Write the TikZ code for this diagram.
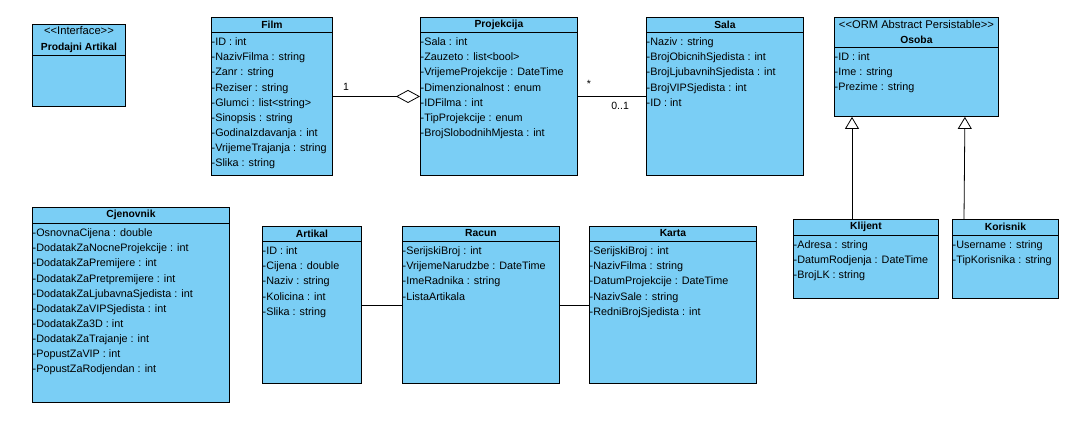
\documentclass[tikz,border=0pt]{standalone}
\usepackage{fontspec}
\setmainfont{Liberation Sans}
\usetikzlibrary{arrows.meta}
\definecolor{classblue}{RGB}{122,206,245}
\newcommand{\classBox}[7]{%
  \node[classbox, minimum width=#3, minimum height=#4] (#1) at #2 {};
  \draw[classline] ([yshift=-#5]#1.north west) -- ([yshift=-#5]#1.north east);
  \node[classtitle] (#1-title) at ([yshift=-#5/2]#1.north) {#6};
  \node[attrs] (#1-attrs) at ([yshift=-#5-3pt]#1.north west) {#7};
}
\newcommand{\stereo}[1]{{\fontsize{11.2}{15.5}\selectfont\mdseries <{}<#1>{}>}}

\begin{document}
\begin{tikzpicture}[x=1pt, y=-1pt]
  \tikzset{classbox/.style={draw, line width=0.9pt, fill=classblue, anchor=north west, inner sep=0pt},
           classline/.style={line width=0.9pt},
           classtitle/.style={font=\fontsize{10.3}{15.5}\selectfont\bfseries, align=center, inner sep=0pt},
           attrs/.style={font=\fontsize{10.8}{15.1}\selectfont, align=left, anchor=north west, inner sep=0pt, xshift=0.5pt},
           assoc/.style={line width=0.8pt},
           aggr/.style={line width=0.8pt, -{Diamond[open, length=24pt, width=13pt, line width=0.8pt]}},
           gen/.style={line width=0.8pt, -{Triangle[open, length=12pt, width=14pt, line width=0.8pt]}},
           mult/.style={font=\fontsize{10.5}{11}\selectfont}}
  \useasboundingbox (0,0) rectangle (1092,428);

  \classBox{prodajni}{(32,24)}{93pt}{82pt}{31pt}{\stereo{Interface}\\Prodajni Artikal}{}
  \classBox{film}{(211,17)}{121pt}{158pt}{15pt}{Film}
    {\strut-ID : int\\-NazivFilma : string\\-Zanr : string\\-Reziser : string\\-Glumci : list<string>\\-Sinopsis : string\\-GodinaIzdavanja : int\\-VrijemeTrajanja : string\\-Slika : string}
  \classBox{projekcija}{(420,17)}{157pt}{158pt}{15pt}{Projekcija}
    {\strut-Sala : int\\-Zauzeto : list<bool>\\-VrijemeProjekcije : DateTime\\-Dimenzionalnost : enum\\-IDFilma : int\\-TipProjekcije : enum\\-BrojSlobodnihMjesta : int}
  \classBox{sala}{(646,17)}{157pt}{158pt}{15pt}{Sala}
    {\strut-Naziv : string\\-BrojObicnihSjedista : int\\-BrojLjubavnihSjedista : int\\-BrojVIPSjedista : int\\-ID : int}
  \classBox{osoba}{(834,17)}{164pt}{99pt}{30pt}{\stereo{ORM Abstract Persistable}\\Osoba}
    {\strut-ID : int\\-Ime : string\\-Prezime : string}
  \classBox{cjenovnik}{(32,207)}{197pt}{195pt}{16pt}{Cjenovnik}
    {\strut-OsnovnaCijena : double\\-DodatakZaNocneProjekcije : int\\-DodatakZaPremijere : int\\-DodatakZaPretpremijere : int\\-DodatakZaLjubavnaSjedista : int\\-DodatakZaVIPSjedista : int\\-DodatakZa3D : int\\-DodatakZaTrajanje : int\\-PopustZaVIP : int\\-PopustZaRodjendan : int}
  \classBox{artikal}{(262,226)}{99pt}{157pt}{15pt}{Artikal}
    {\strut-ID : int\\-Cijena : double\\-Naziv : string\\-Kolicina : int\\-Slika : string}
  \classBox{racun}{(402,226)}{157pt}{157pt}{15pt}{Racun}
    {\strut-SerijskiBroj : int\\-VrijemeNarudzbe : DateTime\\-ImeRadnika : string\\-ListaArtikala}
  \classBox{karta}{(589,226)}{167pt}{157pt}{15pt}{Karta}
    {\strut-SerijskiBroj : int\\-NazivFilma : string\\-DatumProjekcije : DateTime\\-NazivSale : string\\-RedniBrojSjedista : int}
  \classBox{klijent}{(793,219)}{145pt}{79pt}{16pt}{Klijent}
    {\strut-Adresa : string\\-DatumRodjenja : DateTime\\-BrojLK : string}
  \classBox{korisnik}{(952,219)}{106pt}{79pt}{16pt}{Korisnik}
    {\strut-Username : string\\-TipKorisnika : string}

  % veze
  \draw[aggr] (film.east) -- (projekcija.west)
    node[mult, pos=0.15, above=2pt] (filmMult) {1};
  \draw[assoc] (projekcija.east) -- (sala.west)
    node[mult, pos=0.16, above=5pt] (projMult) {*}
    node[mult, pos=0.62, below=2pt] (salaMult) {0..1};
  \draw[assoc] (artikal.east) -- (racun.west);
  \draw[assoc] (racun.east) -- (karta.west);
  \draw[gen] ([xshift=59pt]klijent.north west) -- ([xshift=18pt]osoba.south west);
  \draw[gen] ([xshift=12pt]korisnik.north west) -- ([xshift=-34pt]osoba.south east);
\end{tikzpicture}
\end{document}
